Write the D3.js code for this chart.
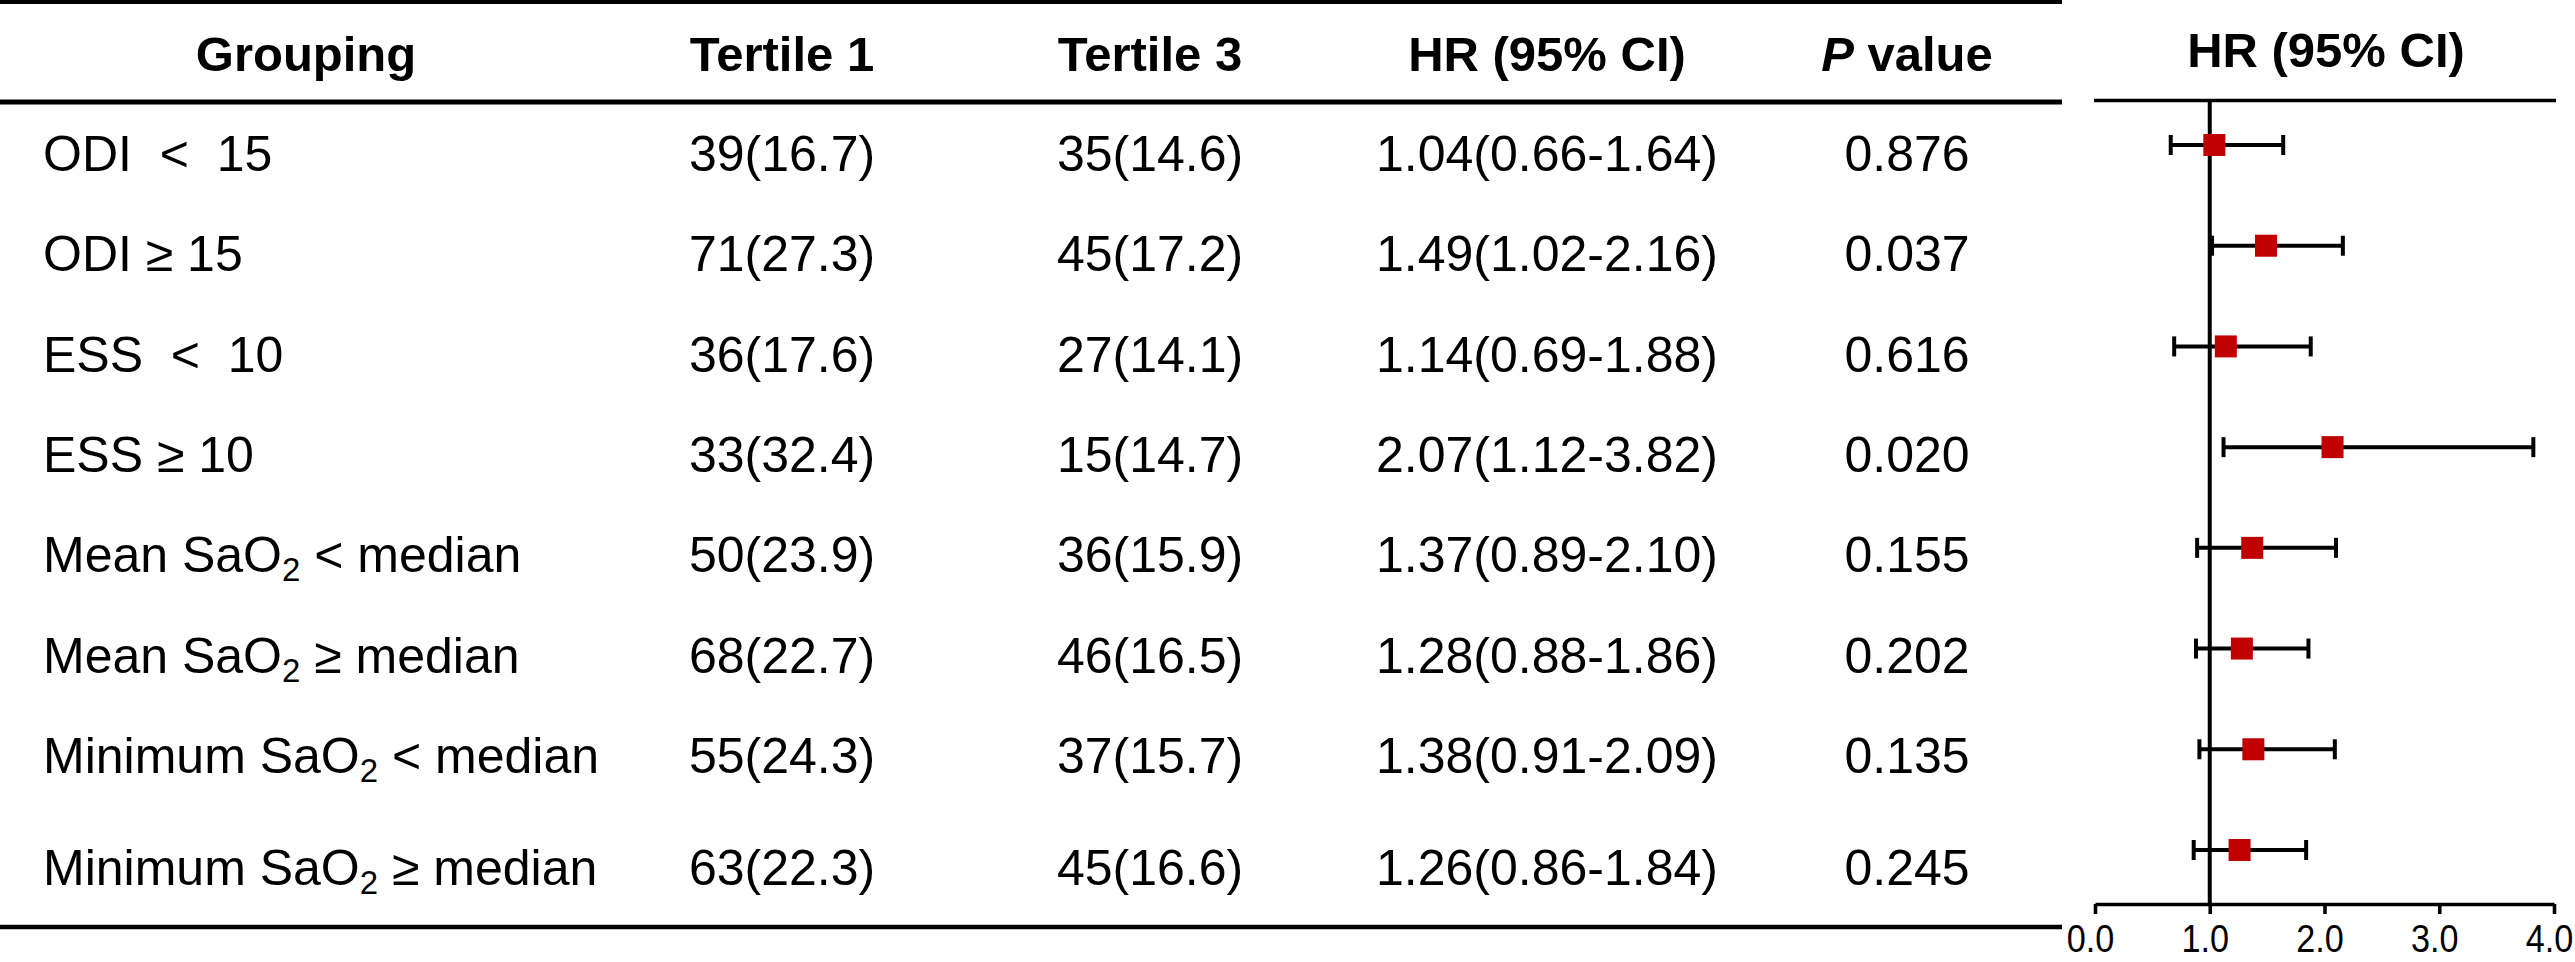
<!DOCTYPE html>
<html><head><meta charset="utf-8">
<script src="https://cdn.jsdelivr.net/npm/d3@7"></script>
<style>
html,body{margin:0;padding:0;background:#fff;overflow:hidden}
text{font-family:"Liberation Sans",Arial,Helvetica,sans-serif;white-space:pre;fill:#000}
</style></head>
<body><svg id="c" width="2575" height="962"></svg>
<script>
// ---- data ----
const columns = ["Grouping", "Tertile 1", "Tertile 3", "HR (95% CI)", "P value"];
const groupings = ["ODI  <  15", "ODI ≥ 15", "ESS  <  10", "ESS ≥ 10",
  "Mean SaO2 < median", "Mean SaO2 ≥ median", "Minimum SaO2 < median", "Minimum SaO2 ≥ median"];
const tertile1 = ["39(16.7)", "71(27.3)", "36(17.6)", "33(32.4)", "50(23.9)", "68(22.7)", "55(24.3)", "63(22.3)"];
const tertile3 = ["35(14.6)", "45(17.2)", "27(14.1)", "15(14.7)", "36(15.9)", "46(16.5)", "37(15.7)", "45(16.6)"];
const hr = [1.04, 1.49, 1.14, 2.07, 1.37, 1.28, 1.38, 1.26];
const lower = [0.66, 1.02, 0.69, 1.12, 0.89, 0.88, 0.91, 0.86];
const upper = [1.64, 2.16, 1.88, 3.82, 2.10, 1.86, 2.09, 1.84];
const pValues = ["0.876", "0.037", "0.616", "0.020", "0.155", "0.202", "0.135", "0.245"];
const forestTitle = "HR (95% CI)";
const axisTicks = [0, 1, 2, 3, 4];
const axisTickLabels = ["0.0", "1.0", "2.0", "3.0", "4.0"];

// ---- layout ----
const svg = d3.select("#c");
svg.append("rect").attr("width", 2575).attr("height", 962).attr("fill", "#fff");
const FS = 50;
const tableRight = 2062;
const colX = [306, 782, 1150, 1547, 1907];
const headerBaseline = 71;
const rowIdx = d3.range(groupings.length);
const textY = d3.scaleLinear().domain([0, 6]).range([171, 773]);
const rowBaseline = i => textY(i) + (i === groupings.length - 1 ? 12 : 0);

// table rules
const rules = [{y: 2, w: 4}, {y: 102, w: 5}, {y: 927, w: 4.5}];
svg.selectAll("line.rule").data(rules).join("line").attr("class", "rule")
  .attr("x1", 0).attr("x2", tableRight).attr("y1", d => d.y).attr("y2", d => d.y)
  .attr("stroke", "#000").attr("stroke-width", d => d.w);

// header
const head = svg.append("g");
columns.forEach((c, i) => {
  const t = head.append("text").attr("x", colX[i]).attr("y", headerBaseline)
    .attr("text-anchor", "middle").attr("font-size", FS - 1).attr("font-weight", "bold");
  if (c === "P value") {
    t.append("tspan").attr("font-style", "italic").text("P");
    t.append("tspan").text(" value");
  } else t.text(c);
});

// grouping column
function groupingText(sel, s) {
  const parts = s.split("SaO2");
  if (parts.length === 1) { sel.text(s); return; }
  sel.append("tspan").text(parts[0] + "SaO");
  sel.append("tspan").attr("font-size", 33).attr("dy", 9).text("2");
  sel.append("tspan").attr("dy", -9).text(parts[1]);
}
const body = svg.append("g").attr("font-size", FS);
rowIdx.forEach(i => {
  const y = rowBaseline(i);
  groupingText(body.append("text").attr("x", 43).attr("y", y).attr("font-size", FS), groupings[i]);
  body.append("text").attr("x", colX[1]).attr("y", y).attr("text-anchor", "middle").attr("font-size", FS).text(tertile1[i]);
  body.append("text").attr("x", colX[2]).attr("y", y).attr("text-anchor", "middle").attr("font-size", FS).text(tertile3[i]);
  body.append("text").attr("x", colX[3]).attr("y", y).attr("text-anchor", "middle").attr("font-size", FS)
    .text(`${hr[i].toFixed(2)}(${lower[i].toFixed(2)}-${upper[i].toFixed(2)})`);
  body.append("text").attr("x", colX[4]).attr("y", y).attr("text-anchor", "middle").attr("font-size", FS).text(pValues[i]);
});

// ---- forest plot ----
const x = d3.scaleLinear().domain([0, 4]).range([2095, 2554]);
const y = d3.scaleLinear().domain([0, 7]).range([145, 850]);
const axisY = 904, topY = 100.5;

svg.append("text").attr("x", 2326).attr("y", 67).attr("text-anchor", "middle")
  .attr("font-size", FS - 1).attr("font-weight", "bold").text(forestTitle);
svg.append("line").attr("x1", 2094).attr("x2", 2556).attr("y1", topY).attr("y2", topY)
  .attr("stroke", "#000").attr("stroke-width", 3.6);

// reference line at HR = 1
svg.append("line").attr("x1", x(1)).attr("x2", x(1)).attr("y1", topY).attr("y2", axisY)
  .attr("stroke", "#000").attr("stroke-width", 4);

// axis
const ax = svg.append("g").attr("transform", `translate(0,${axisY})`)
  .call(d3.axisBottom(x).tickValues(axisTicks).tickFormat((d, i) => axisTickLabels[i])
    .tickSize(10).tickSizeOuter(0).tickPadding(0));
ax.select(".domain").attr("stroke", "#000").attr("stroke-width", 3.6);
ax.selectAll(".tick line").attr("stroke", "#000").attr("stroke-width", 3.6);
ax.selectAll(".tick text").attr("font-size", 38).attr("fill", "#707070")
  .attr("font-family", '"Liberation Sans",Arial,sans-serif')
  .attr("dy", null).attr("y", 48).attr("x", 0)
  .attr("transform", "translate(-5,0) scale(0.9,1)");

// CIs
const ci = svg.append("g");
ci.selectAll("line.ci").data(rowIdx).join("line").attr("class", "ci")
  .attr("x1", i => x(lower[i])).attr("x2", i => x(upper[i]))
  .attr("y1", i => y(i)).attr("y2", i => y(i)).attr("stroke", "#000").attr("stroke-width", 4);
ci.selectAll("line.capL").data(rowIdx).join("line").attr("class", "capL")
  .attr("x1", i => x(lower[i])).attr("x2", i => x(lower[i]))
  .attr("y1", i => y(i) - 10).attr("y2", i => y(i) + 10).attr("stroke", "#000").attr("stroke-width", 4);
ci.selectAll("line.capU").data(rowIdx).join("line").attr("class", "capU")
  .attr("x1", i => x(upper[i])).attr("x2", i => x(upper[i]))
  .attr("y1", i => y(i) - 10).attr("y2", i => y(i) + 10).attr("stroke", "#000").attr("stroke-width", 4);
const S = 22;
ci.selectAll("rect.pt").data(rowIdx).join("rect").attr("class", "pt")
  .attr("x", i => x(hr[i]) - S / 2).attr("y", i => y(i) - S / 2)
  .attr("width", S).attr("height", S).attr("fill", "#c00000");
</script>
</body></html>
